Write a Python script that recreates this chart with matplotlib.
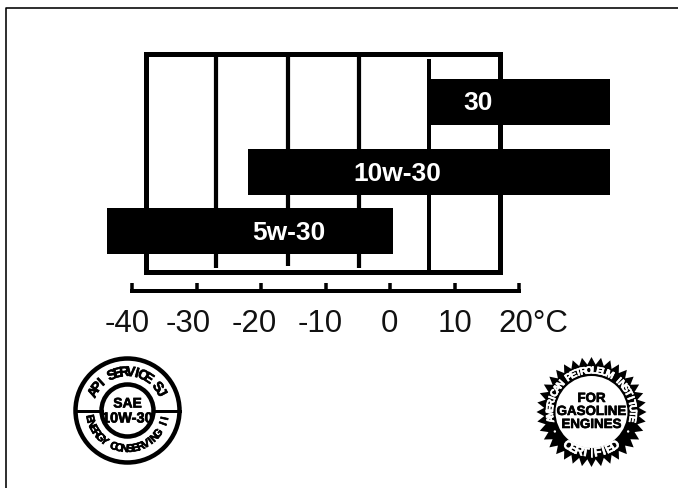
import numpy as np
import matplotlib
matplotlib.use("Agg")
import matplotlib.pyplot as plt
import matplotlib.patheffects as pe
from matplotlib.patches import Circle, Polygon, Rectangle

# ---- data ----
grades = ["30", "10w-30", "5w-30"]
low_temp = [6.05, -22.0, -43.9]
high_temp = [34.1, 34.1, 0.47]
tick_values = [-40, -30, -20, -10, 0, 10, 20]
tick_labels = ["-40", "-30", "-20", "-10", "0", "10", "20°C"]
frame_lines = [-27.0, -15.8, -4.75, 6.05]
frame_low, frame_high = -37.9, 17.05

# ---- layout ----
W, H = 678, 489
PX = 0.72
X0, SCALE = 390.0, 6.45   # pixel of 0 deg, pixels per deg
bar_centers = [102.5, 173, 231.5]
bar_height = 46
label_px = [127, 188, 254, 320, 389, 455, 533]
bar_label_px = [478, 397, 289]
FONT = "Liberation Sans"
NARROW = ["Liberation Sans Narrow", "Liberation Sans"]


def heavy(color="black", w=0.45):
    return [pe.withStroke(linewidth=w, foreground=color)]


fig = plt.figure(figsize=(W / 100, H / 100), dpi=100, facecolor="white")
ax = fig.add_axes([0, 0, 1, 1])
ax.set_xlim(-X0 / SCALE, (W - X0) / SCALE)
ax.set_ylim(H, 0)
ax.axis("off")

ov = fig.add_axes([0, 0, 1, 1])
ov.set_xlim(0, W)
ov.set_ylim(H, 0)
ov.axis("off")
ov.patch.set_alpha(0)

# outer page border (top and left only)
ov.plot([6, 6, W], [H, 9, 9], color="black", lw=1.6 * PX, solid_capstyle="butt")

# frame
ax.add_patch(Rectangle((frame_low, 54.5), frame_high - frame_low, 218, fill=False,
                       ec="black", lw=5 * PX, joinstyle="miter"))
ax.vlines(frame_lines[0], 54, 268.5, color="black", lw=4.2 * PX)
ax.vlines(frame_lines[1], 54, 266.5, color="black", lw=4.2 * PX)
ax.vlines(frame_lines[2], 54, 268.5, color="black", lw=4.2 * PX)
ax.vlines(frame_lines[3], 60, 272, color="black", lw=4 * PX)

# bars
ax.barh(bar_centers, np.array(high_temp) - np.array(low_temp), left=low_temp,
        height=bar_height, color="black", zorder=3)
for g, lx, y in zip(grades, bar_label_px, bar_centers):
    ov.text(lx, y + 1, g, color="white", fontsize=19, fontweight="bold", family=FONT,
            ha="center", va="center", zorder=4)

# ruler
ax.plot([tick_values[0], tick_values[-1]], [292, 292], color="black", lw=4 * PX,
        solid_capstyle="projecting")
ax.vlines(tick_values, 283.5, 292, color="black", lw=3.5 * PX)
for lx, t in zip(label_px, tick_labels):
    ov.text(lx, 324.5, t, fontsize=22.5, family=FONT, ha="center", va="center", color="#111111")


def arc_text(a, s, cx, cy, r, start, end, size, bottom=False, color="black"):
    """Place characters along an arc; angles in degrees clockwise from up."""
    angs = np.linspace(start, end, len(s))
    for ch, ang in zip(s, angs):
        th = np.deg2rad(ang)
        x = cx + r * np.sin(th)
        y = cy - r * np.cos(th)
        rot = -ang if not bottom else 180 - ang
        a.text(x, y, ch, fontsize=size, fontweight="bold", family=NARROW, color=color,
               ha="center", va="center", rotation=rot, rotation_mode="anchor",
               path_effects=heavy(color))


# API donut badge
cx, cy = 127.5, 411.5
ov.add_patch(Circle((cx, cy), 52, fill=False, ec="black", lw=4.5 * PX))
ov.add_patch(Circle((cx, cy), 26, fill=False, ec="black", lw=4.5 * PX))
ov.plot([cx - 52, cx - 26], [cy, cy], color="black", lw=3 * PX)
ov.plot([cx + 26, cx + 52], [cy, cy], color="black", lw=3 * PX)
arc_text(ov, "API SERVICE SJ", cx, cy, 38.5, -62, 62, 10)
arc_text(ov, "ENERGY CONSERVING II", cx, cy, 38.5, 258, 102, 8, bottom=True)
ov.text(cx, cy - 7, "SAE", fontsize=10, fontweight="bold", family=NARROW, ha="center",
        va="center", path_effects=heavy())
ov.text(cx, cy + 8, "10W-30", fontsize=10.5, fontweight="bold", family=NARROW, ha="center",
        va="center", path_effects=heavy())

# Certified starburst badge
sx, sy = 591.5, 413
n_teeth = 36
angs = np.arange(n_teeth * 2) * np.pi / n_teeth
radii = np.where(np.arange(n_teeth * 2) % 2 == 0, 55, 47.5)
ov.add_patch(Polygon(np.c_[sx + radii * np.sin(angs), sy - radii * np.cos(angs)],
                     closed=True, fc="black", ec="none"))
ov.add_patch(Circle((sx, sy), 36, fc="white", ec="none"))
arc_text(ov, "AMERICAN PETROLEUM INSTITUTE", sx, sy, 41.5, -100, 100, 7.4, color="white")
arc_text(ov, "CERTIFIED", sx, sy, 41.5, 215, 145, 9, bottom=True, color="white")
for a_ in (-118, 118):
    th = np.deg2rad(a_)
    ov.add_patch(Circle((sx + 41.5 * np.sin(th), sy - 41.5 * np.cos(th)), 1.2, fc="white", ec="none"))
for t, dy in zip(["FOR", "GASOLINE", "ENGINES"], [-13, 0, 13]):
    ov.text(sx, sy + dy, t, fontsize=9.6, fontweight="bold", family=NARROW, ha="center",
            va="center", path_effects=heavy())

fig.savefig("out.png", dpi=100)
